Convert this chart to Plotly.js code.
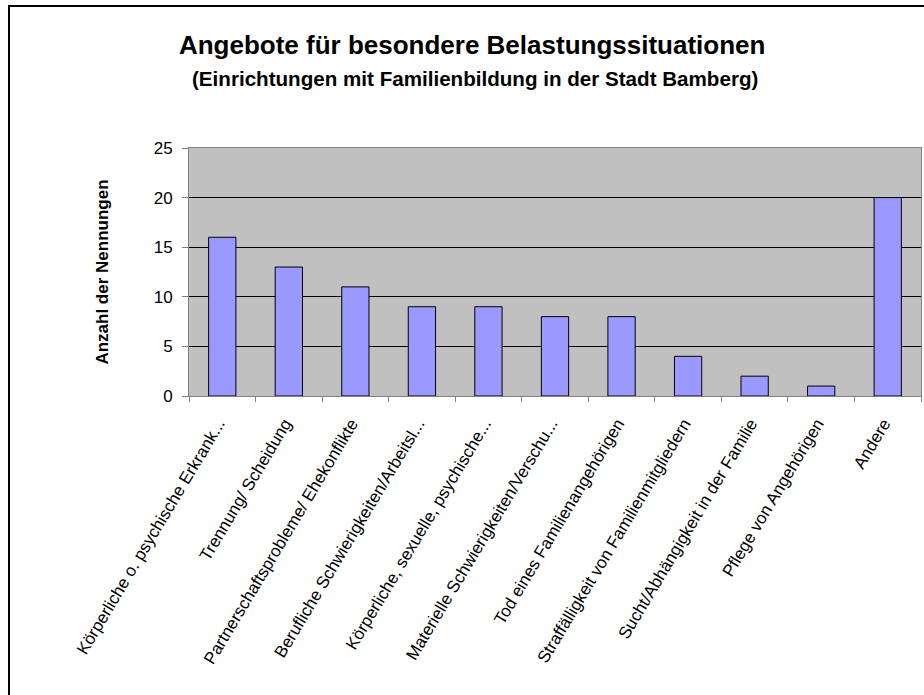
<!DOCTYPE html>
<html>
<head>
<meta charset="utf-8">
<script src="https://cdn.plot.ly/plotly-3.0.1.min.js"></script>
<style>
  html, body { margin: 0; padding: 0; background: #fff; overflow: hidden; }
  #wrap { position: relative; width: 924px; height: 695px; overflow: hidden; }
  #chart { position: absolute; left: 0; top: 0; width: 924px; height: 695px; }
  #frame { position: absolute; left: 8px; top: 5px; width: 940px; height: 720px;
           border-left: 2px solid #000; border-top: 2px solid #000; pointer-events: none; }
</style>
</head>
<body>
<div id="wrap">
  <div id="chart"></div>
  <div id="frame"></div>
</div>
<script>
const categories = [
  "Körperliche o. psychische Erkrank...",
  "Trennung/ Scheidung",
  "Partnerschaftsprobleme/ Ehekonflikte",
  "Berufliche Schwierigkeiten/Arbeitsl...",
  "Körperliche, sexuelle, psychische...",
  "Materielle Schwierigkeiten/Verschu...",
  "Tod eines Familienangehörigen",
  "Straffälligkeit von Familienmitgliedern",
  "Sucht/Abhängigkeit in der Familie",
  "Pflege von Angehörigen",
  "Andere"
];
const values = [16, 13, 11, 9, 9, 8, 8, 4, 2, 1, 20];
const yTicks = [0, 5, 10, 15, 20, 25];
const titleText = "Angebote für besondere Belastungssituationen";
const subtitleText = "(Einrichtungen mit Familienbildung in der Stadt Bamberg)";
const yTitleText = "Anzahl der Nennungen";

const font = "Liberation Sans, Arial, sans-serif";

Plotly.newPlot("chart", [{
  type: "bar",
  x: categories,
  y: values,
  marker: { color: "#9999FF", line: { color: "#000000", width: 1 } },
  hoverinfo: "x+y"
}], {
  width: 924, height: 695,
  margin: { l: 189, r: 3, t: 148, b: 299 },
  paper_bgcolor: "#ffffff",
  plot_bgcolor: "#C0C0C0",
  bargap: 0.59,
  showlegend: false,
  font: { family: font, color: "#000" },
  title: {
    text: "<b>" + titleText + "</b>",
    x: 0.511, xref: "container", xanchor: "center",
    y: 0.935, yref: "container", yanchor: "middle",
    font: { family: font, size: 26, color: "#000" }
  },
  annotations: [{
    text: "<b>" + subtitleText + "</b>",
    xref: "paper", yref: "paper",
    x: 0.391, y: 1.28, xanchor: "center", yanchor: "middle",
    showarrow: false,
    font: { family: font, size: 20.6, color: "#000" }
  }],
  xaxis: {
    type: "category",
    tickangle: -59,
    tickfont: { family: font, size: 17, color: "#000" },
    ticks: "outside", ticklen: 5, tickcolor: "#808080",
    tickson: "boundaries",
    ticklabelstandoff: 10,
    ticklabelshift: -4,
    showline: true, linecolor: "#808080", linewidth: 1, mirror: true,
    showgrid: false
  },
  yaxis: {
    range: [0, 25],
    tickvals: yTicks,
    tickfont: { family: font, size: 17, color: "#000" },
    ticks: "outside", ticklen: 6, tickcolor: "#808080",
    ticklabelstandoff: 6,
    showline: true, linecolor: "#808080", linewidth: 1, mirror: true,
    showgrid: true, gridcolor: "#000000", gridwidth: 1,
    zeroline: false,
    title: { text: "<b>" + yTitleText + "</b>", font: { family: font, size: 17, color: "#000" }, standoff: 40 }
  }
}, { displayModeBar: false, staticPlot: true });
</script>
</body>
</html>
